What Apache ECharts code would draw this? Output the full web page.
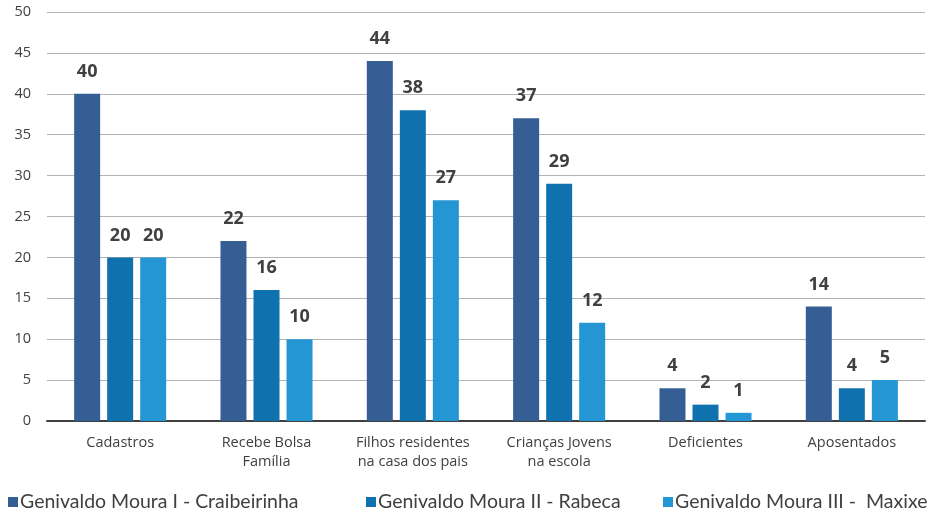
<!DOCTYPE html>
<html>
<head>
<meta charset="utf-8">
<script src="https://cdn.jsdelivr.net/npm/echarts@6/dist/echarts.min.js"></script>
<style>
  html, body { margin: 0; padding: 0; background: #fff; }
  #main { width: 933px; height: 515px; }
</style>
</head>
<body>
<div id="main"></div>
<script>
const categories = ['Cadastros', 'Recebe Bolsa\nFamília', 'Filhos residentes\nna casa dos pais', 'Crianças Jovens\nna escola', 'Deficientes', 'Aposentados'];
const seriesNames = ['Genivaldo Moura I - Craibeirinha', 'Genivaldo Moura II - Rabeca', 'Genivaldo Moura III -  Maxixe'];
const craibeirinha = [40, 22, 44, 37, 4, 14];
const rabeca = [20, 16, 38, 29, 2, 4];
const maxixe = [20, 10, 27, 12, 1, 5];
const colors = ['#355e94', '#0f72ae', '#2596d4'];

const chart = echarts.init(document.getElementById('main'));

const txt = '#404040';
const legendX = [3, 361, 658]; // left of each legend item

function bar(name, data, color) {
    return {
        name: name,
        type: 'bar',
        data: data,
        barWidth: 26,
        barGap: '27%',
        itemStyle: { color: color },
        label: {
            show: true,
            position: 'top',
            distance: 13,
            color: txt,
            fontFamily: 'Open Sans',
            fontWeight: 'bold',
            fontSize: 18
        }
    };
}

const option = {
    animation: false,
    grid: { left: 47, right: 8, top: 12, bottom: 94 },
    legend: seriesNames.map((n, i) => ({
        data: [n],
        left: legendX[i],
        top: 487,
        itemWidth: 10,
        itemHeight: 10,
        itemGap: 2,
        icon: 'rect',
        textStyle: { color: txt, fontSize: 19.5, fontFamily: 'Lato', padding: [0, 0, 0, -3] }
    })),
    xAxis: {
        type: 'category',
        data: categories,
        axisLine: { lineStyle: { color: txt, width: 2 } },
        axisTick: { show: false },
        axisLabel: { color: txt, fontSize: 14.5, fontFamily: 'Open Sans', margin: 12, lineHeight: 19, interval: 0 }
    },
    yAxis: {
        type: 'value',
        min: 0,
        max: 50,
        interval: 5,
        axisLine: { show: false },
        axisTick: { show: false },
        splitLine: { lineStyle: { color: '#b3b3b3', width: 1 } },
        axisLabel: { color: txt, fontSize: 14.5, fontFamily: 'Open Sans', margin: 16 }
    },
    series: [
        bar(seriesNames[0], craibeirinha, colors[0]),
        bar(seriesNames[1], rabeca, colors[1]),
        bar(seriesNames[2], maxixe, colors[2])
    ]
};

chart.setOption(option);
</script>
</body>
</html>
